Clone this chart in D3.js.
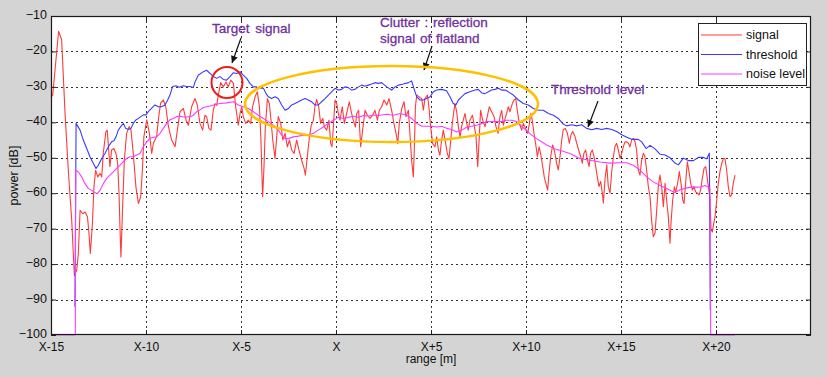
<!DOCTYPE html>
<html>
<head>
<meta charset="utf-8">
<script src="https://cdn.jsdelivr.net/npm/d3@7"></script>
<style>
  html, body { margin: 0; padding: 0; background: #d4d4d4; }
  svg { display: block; font-family: "Liberation Sans", Arial, sans-serif; }
</style>
</head>
<body>
<svg id="chart" width="827" height="377"></svg>
<script>
/* power vs range: measured signal, CFAR threshold and noise level */
const xTicks = [-15, -10, -5, 0, 5, 10, 15, 20];
const xTickLabels = ['X-15', 'X-10', 'X-5', 'X', 'X+5', 'X+10', 'X+15', 'X+20'];
const yTicks = [-100, -90, -80, -70, -60, -50, -40, -30, -20, -10];

const signalX = [-15, -14.91, -14.6, -14.44, -14.26, -14.09, -13.91, -13.77, -13.65, -13.56, -13.47, -13.33, -13.2, -13.08, -13.0, -12.93, -12.82, -12.74, -12.65, -12.54, -12.42, -12.33, -12.25, -12.11, -12.04, -11.95, -11.9, -11.81, -11.69, -11.58, -11.49, -11.42, -11.37, -11.32, -11.23, -11.14, -11.02, -10.89, -10.79, -10.67, -10.53, -10.4, -10.28, -10.19, -10.11, -9.96, -9.82, -9.7, -9.61, -9.53, -9.44, -9.33, -9.23, -9.09, -8.96, -8.82, -8.65, -8.47, -8.35, -8.21, -8.03, -7.89, -7.77, -7.6, -7.42, -7.3, -7.16, -7.02, -6.9, -6.81, -6.69, -6.58, -6.46, -6.37, -6.28, -6.18, -6.07, -5.93, -5.79, -5.67, -5.54, -5.4, -5.28, -5.14, -5.05, -4.96, -4.88, -4.75, -4.61, -4.49, -4.39, -4.26, -4.14, -4.03, -3.95, -3.89, -3.86, -3.79, -3.72, -3.61, -3.51, -3.42, -3.33, -3.21, -3.12, -3.04, -2.91, -2.8, -2.68, -2.56, -2.45, -2.33, -2.21, -2.07, -1.95, -1.81, -1.68, -1.61, -1.51, -1.4, -1.3, -1.19, -1.11, -1.02, -0.91, -0.81, -0.7, -0.61, -0.49, -0.37, -0.28, -0.21, -0.14, -0.05, 0.04, 0.12, 0.21, 0.33, 0.44, 0.56, 0.7, 0.82, 0.91, 1.02, 1.09, 1.19, 1.3, 1.4, 1.53, 1.65, 1.79, 1.93, 2.05, 2.18, 2.28, 2.4, 2.53, 2.67, 2.79, 2.93, 3.05, 3.16, 3.25, 3.33, 3.46, 3.58, 3.68, 3.81, 3.89, 3.98, 4.07, 4.12, 4.18, 4.25, 4.37, 4.51, 4.6, 4.68, 4.81, 4.89, 4.98, 5.09, 5.21, 5.3, 5.39, 5.47, 5.56, 5.65, 5.74, 5.86, 5.95, 6.04, 6.14, 6.26, 6.35, 6.44, 6.53, 6.61, 6.7, 6.79, 6.88, 6.96, 7.05, 7.18, 7.26, 7.37, 7.46, 7.54, 7.61, 7.72, 7.84, 7.96, 8.07, 8.19, 8.32, 8.42, 8.53, 8.63, 8.72, 8.81, 8.9, 8.98, 9.07, 9.16, 9.28, 9.37, 9.46, 9.54, 9.65, 9.77, 9.86, 9.98, 10.09, 10.18, 10.25, 10.33, 10.42, 10.53, 10.6, 10.69, 10.77, 10.88, 10.96, 11.05, 11.14, 11.21, 11.3, 11.4, 11.51, 11.61, 11.7, 11.79, 11.88, 11.96, 12.07, 12.18, 12.28, 12.37, 12.46, 12.58, 12.67, 12.77, 12.88, 12.96, 13.05, 13.14, 13.23, 13.32, 13.4, 13.49, 13.58, 13.67, 13.75, 13.84, 13.93, 14.02, 14.07, 14.16, 14.25, 14.33, 14.42, 14.51, 14.6, 14.68, 14.77, 14.86, 14.95, 15.04, 15.12, 15.21, 15.3, 15.39, 15.47, 15.56, 15.65, 15.74, 15.82, 15.91, 16, 16.09, 16.18, 16.26, 16.35, 16.44, 16.53, 16.61, 16.7, 16.79, 16.88, 16.96, 17.05, 17.14, 17.23, 17.32, 17.4, 17.49, 17.58, 17.63, 17.72, 17.81, 17.88, 17.98, 18.07, 18.16, 18.25, 18.32, 18.4, 18.49, 18.58, 18.67, 18.76, 18.84, 18.93, 19.02, 19.11, 19.19, 19.28, 19.37, 19.46, 19.53, 19.6, 19.67, 19.74, 19.81, 19.88, 19.95, 20.04, 20.12, 20.21, 20.3, 20.39, 20.47, 20.56, 20.65, 20.74, 20.82, 20.91, 21];
const signalY = [-33, -32.3, -14.3, -16.7, -37.5, -53.5, -67.6, -83.2, -81.8, -77, -64.8, -65.8, -65.3, -66.7, -71.4, -77, -68.6, -58.2, -53.5, -55.4, -54.4, -55.4, -48.8, -42.6, -42.2, -48.8, -52.5, -47.8, -47.4, -48.8, -51.6, -60.1, -69.5, -78, -63.9, -50.7, -43.1, -41.2, -42.2, -48.8, -58.2, -62.9, -61, -53.5, -44, -39.3, -43.1, -48.8, -45.9, -45, -44, -38.4, -34.6, -33.7, -35.6, -41.2, -45, -46.9, -42.2, -37, -36.1, -39.4, -40.8, -35.6, -33.3, -35.1, -40.3, -42.2, -38, -38.4, -41.7, -42.2, -36.6, -34.7, -35.2, -31.9, -28.8, -30, -28.6, -30, -28.1, -29, -35.6, -40.8, -37.5, -35.6, -38.4, -40.3, -39.4, -40.3, -35.6, -32.8, -31.4, -35.6, -45, -56.3, -61, -52.5, -41.3, -33.3, -34.7, -39.4, -45, -50.2, -44.1, -38.4, -40.3, -45, -43.1, -46.9, -45, -47.8, -48.8, -45, -47.8, -50.7, -53, -54.9, -49.7, -44.1, -40.8, -39.4, -35.6, -33.5, -35.6, -40.3, -38.9, -41.3, -42.2, -39.4, -46, -46.9, -41.3, -33.7, -34.7, -37.5, -39.4, -35.6, -40.3, -37.5, -34.2, -37.5, -39.4, -41.3, -37.5, -36.6, -46.9, -42.2, -36.6, -38, -38.9, -38, -36.6, -39.4, -36.6, -35.6, -33.7, -35.1, -33.3, -36.6, -40.3, -43.1, -46, -40.3, -36.1, -34.2, -38.4, -36.6, -43.1, -50.7, -55.4, -47.8, -35.6, -32.3, -32.8, -33.3, -36.6, -33.3, -32.3, -35.6, -41.2, -46, -46.9, -44.1, -47.8, -49.3, -45, -42.2, -45, -48.8, -50.2, -45, -39.4, -34.7, -37, -41.2, -44.1, -41.2, -39.4, -37.5, -40.3, -42.2, -39.4, -38, -40.3, -44.1, -52.5, -44.1, -36.6, -39.4, -41.2, -38.4, -35.6, -37, -38.4, -41.2, -43.1, -38.4, -36.6, -40.8, -38.9, -37.5, -35.6, -37, -34.7, -33.7, -33.3, -36.6, -40.3, -42.2, -40.3, -41.7, -43.1, -40.3, -37.5, -39.4, -43.1, -46.9, -49.7, -46.9, -48.8, -52.5, -55.4, -57.3, -59.1, -54.4, -49.7, -46.4, -48.3, -51.5, -53.4, -49.7, -45, -42.1, -41.7, -43.1, -45.9, -43.5, -42.6, -44, -45.9, -47.8, -49.7, -51.5, -48.7, -47.8, -50.6, -52.5, -48.7, -47.8, -49.7, -52.5, -55.3, -58.1, -56.7, -60, -62.8, -56, -52, -58, -60, -54, -49.7, -46.9, -45.9, -47.8, -50.2, -48.7, -46.9, -45.5, -45.5, -45.9, -46.9, -45, -44.5, -45.5, -47.8, -53.5, -54.9, -50.6, -48.7, -49.7, -53.5, -58.2, -61, -67.6, -72.3, -71.3, -64.7, -58.2, -54.9, -58.2, -63.8, -57.2, -61.9, -66.6, -74.1, -68.5, -61.9, -58.2, -59.6, -57.2, -53.9, -57.2, -61.9, -62.9, -57.2, -51.1, -53.9, -57.2, -59.1, -58.2, -59.6, -60, -60.5, -59.1, -55.8, -53, -52.5, -55.3, -58.2, -61, -70.4, -70.9, -68.5, -66.6, -61.9, -57.2, -53.9, -51.6, -50.2, -50.2, -53.5, -58.2, -61, -60.5, -57.2, -54.9];

const thresholdX = [-13.74, -13.68, -13.47, -13.3, -13.12, -12.95, -12.77, -12.63, -12.51, -12.33, -12.16, -11.98, -11.81, -11.69, -11.58, -11.46, -11.33, -11.19, -11.07, -10.93, -10.79, -10.67, -10.53, -10.4, -10.28, -10.14, -10, -9.88, -9.7, -9.53, -9.35, -9.18, -9, -8.86, -8.74, -8.6, -8.42, -8.25, -8.04, -7.86, -7.68, -7.51, -7.42, -7.25, -6.98, -6.81, -6.63, -6.46, -6.28, -6.11, -5.93, -5.76, -5.58, -5.4, -5.23, -5.05, -4.88, -4.7, -4.53, -4.35, -4.18, -4, -3.82, -3.68, -3.56, -3.39, -3.21, -3.04, -2.86, -2.68, -2.51, -2.33, -2.16, -1.98, -1.81, -1.63, -1.46, -1.28, -1.11, -0.93, -0.76, -0.58, -0.4, -0.23, -0.05, 0.12, 0.3, 0.47, 0.65, 0.82, 1, 1.18, 1.35, 1.53, 1.7, 1.88, 2.05, 2.23, 2.4, 2.67, 2.93, 3.1, 3.28, 3.54, 3.81, 3.98, 4.1, 4.25, 4.42, 4.6, 4.77, 4.95, 5.12, 5.3, 5.56, 5.82, 6, 6.17, 6.31, 6.44, 6.61, 6.79, 7.05, 7.32, 7.49, 7.67, 7.84, 8.02, 8.19, 8.37, 8.54, 8.72, 8.9, 9.07, 9.33, 9.6, 9.86, 10.12, 10.39, 10.65, 10.91, 11.18, 11.44, 11.7, 11.96, 12.14, 12.4, 12.67, 12.93, 13.19, 13.46, 13.72, 13.98, 14.25, 14.51, 14.77, 15.04, 15.3, 15.56, 15.74, 15.91, 16.09, 16.32, 16.53, 16.79, 17.05, 17.32, 17.58, 17.84, 18.02, 18.28, 18.54, 18.81, 19.07, 19.33, 19.51, 19.65, 19.7];
const thresholdY = [-92, -40.3, -42.2, -45, -47.4, -49.7, -51.6, -53, -52.1, -50.2, -48.8, -46.9, -45.5, -45.2, -44.1, -42.2, -41.2, -40.3, -41.7, -42, -41.7, -40.3, -39.3, -38.9, -38.4, -37.9, -37.9, -37, -36, -35.1, -35.6, -35.6, -35.1, -33.7, -32.3, -29.9, -29.7, -30.1, -29.7, -29.9, -29.9, -30.2, -28.6, -26.7, -25.7, -25.3, -26.2, -27.1, -27.6, -27.1, -27.9, -28.1, -27.1, -26, -26.2, -25.7, -26.7, -27.6, -29, -30, -30, -30.4, -30.4, -31.9, -32.8, -33.3, -32.8, -33.3, -35.1, -36.6, -36.1, -35.1, -34.7, -34.2, -33.7, -33.3, -33.7, -34.2, -35.1, -35.1, -34.2, -33.3, -32.3, -31.4, -30.4, -30.9, -30.7, -30, -30.2, -30.9, -30.7, -30, -29.5, -29.8, -29.5, -29.2, -28.8, -29, -28.8, -30, -30.9, -30, -29.5, -29.2, -28.8, -28.3, -30.4, -32.8, -33.7, -33.7, -33.3, -32.8, -31.4, -30.9, -30.7, -31.1, -32.8, -34.7, -35.1, -33.7, -32.8, -31.9, -31.4, -30.9, -30.7, -31.7, -31.9, -31.4, -30.9, -30.7, -30.4, -30.9, -30.9, -31.4, -32.3, -33.7, -34.7, -35.1, -36.1, -36.6, -36.6, -37.5, -38, -38.9, -40.5, -41, -40.7, -41, -40.7, -41.7, -42.1, -41.7, -42, -41.7, -42, -42.6, -43.5, -44.2, -44.8, -44.8, -44.8, -45.5, -47.4, -46.5, -47.5, -49, -49.2, -50, -51.5, -52, -50.1, -50.8, -50.8, -49.9, -49.9, -50.3, -48.7, -93];

const noiseX = [-15, -13.72, -13.7, -13.56, -13.38, -13.21, -13.03, -12.86, -12.68, -12.56, -12.42, -12.25, -12.07, -11.9, -11.72, -11.54, -11.37, -11.19, -11.02, -10.84, -10.67, -10.49, -10.32, -10.14, -9.96, -9.79, -9.61, -9.44, -9.26, -9.09, -8.91, -8.74, -8.56, -8.39, -8.21, -8.04, -7.86, -7.68, -7.51, -7.33, -7.16, -6.98, -6.81, -6.63, -6.46, -6.11, -5.76, -5.4, -5.14, -4.88, -4.61, -4.35, -4.09, -3.82, -3.56, -3.3, -3.04, -2.86, -2.68, -2.51, -2.25, -1.98, -1.72, -1.46, -1.19, -0.93, -0.67, -0.4, -0.14, 0.12, 0.39, 0.65, 0.91, 1.18, 1.44, 1.7, 1.96, 2.32, 2.67, 3.02, 3.37, 3.72, 3.98, 4.25, 4.51, 4.77, 5.04, 5.3, 5.56, 5.82, 6.09, 6.35, 6.61, 6.88, 7.14, 7.4, 7.67, 7.93, 8.19, 8.46, 8.72, 8.98, 9.25, 9.51, 9.77, 10.04, 10.3, 10.56, 10.82, 11.09, 11.35, 11.61, 11.79, 12.31, 12.84, 13.37, 13.89, 14.42, 14.95, 15.3, 15.65, 16, 16.35, 16.7, 17.05, 17.4, 17.75, 17.84, 18.11, 18.46, 18.81, 19.16, 19.42, 19.6, 19.68, 19.72, 21];
const noiseY = [-100, -100, -53.5, -54, -55.4, -57.3, -58.7, -59.2, -59.9, -60.1, -59.2, -57.3, -55.8, -54.9, -54, -53, -52.1, -51.1, -50.2, -49.7, -49.7, -49.2, -48.8, -46.9, -45.5, -44.5, -44.2, -44.1, -43.1, -41.7, -40.3, -39.3, -38.9, -38.4, -38.3, -38.5, -38.5, -38.4, -38, -37, -36.5, -35.8, -35.6, -35.4, -35.1, -34.7, -34.5, -34.2, -35.1, -35.6, -36.1, -37, -38, -38.9, -39.8, -40.8, -42.2, -43.6, -44.6, -44.6, -44.1, -43.9, -43.6, -43.6, -43.1, -42.2, -41.3, -40.3, -39.4, -38.6, -38.9, -38.6, -38.3, -38.6, -38.1, -38.2, -38, -38, -37.7, -38, -37.5, -38, -38.9, -40.3, -41.1, -41.1, -41.1, -41.3, -41.1, -41.7, -42, -42.7, -42.2, -41.4, -41.1, -40.8, -40.3, -39.8, -39.8, -39.8, -39.8, -39.4, -39.4, -39.8, -41.1, -42.4, -43.6, -44.6, -45.5, -46.4, -47, -47.7, -47.9, -48.8, -50.2, -50.7, -51.2, -51.5, -51.4, -51.4, -52.1, -53.5, -55.4, -56.8, -57.8, -58.7, -59.6, -59.8, -59, -58.5, -58.2, -58.3, -57.8, -58.3, -58.5, -100, -100];

const seriesNames = ['signal', 'threshold', 'noise level'];
const seriesColors = ['#ff3a3a', '#3a3aff', '#ff3aff'];

(function(){
  const W = 827, H = 377;
  const m = { left: 51, right: 811, top: 16, bottom: 335 };
  const svg = d3.select('#chart');

  const x = d3.scaleLinear().domain([-15, 25]).range([m.left, m.right]);
  const y = d3.scaleLinear().domain([-100, -10]).range([m.bottom, m.top]);

  svg.append('rect').attr('width', W).attr('height', H).attr('fill', '#d4d4d4');
  svg.append('rect')
    .attr('x', m.left).attr('y', m.top)
    .attr('width', m.right - m.left).attr('height', m.bottom - m.top)
    .attr('fill', '#fff');

  // dotted grid
  const grid = svg.append('g').attr('stroke', '#333').attr('stroke-dasharray', '2,3').attr('stroke-width', 1);
  grid.selectAll('.gx').data(xTicks.slice(1)).join('line')
    .attr('x1', d => Math.round(x(d)) + 0.5).attr('x2', d => Math.round(x(d)) + 0.5)
    .attr('y1', m.top).attr('y2', m.bottom);
  grid.selectAll('.gy').data(yTicks.slice(1, -1)).join('line')
    .attr('y1', d => Math.round(y(d)) + 0.5).attr('y2', d => Math.round(y(d)) + 0.5)
    .attr('x1', m.left).attr('x2', m.right);

  // series
  const line = d3.line().x(d => x(d[0])).y(d => y(d[1]));
  const series = [
    d3.zip(signalX, signalY),
    d3.zip(thresholdX, thresholdY),
    d3.zip(noiseX, noiseY)
  ];
  svg.append('g').selectAll('path').data(series).join('path')
    .attr('d', line)
    .attr('fill', 'none')
    .attr('stroke', (d, i) => seriesColors[i])
    .attr('stroke-width', 1.1)
    .attr('stroke-linejoin', 'round');

  // axes, ticks pointing inward like matlab
  const fmtLabel = d => xTickLabels[xTicks.indexOf(d)];
  const ax = svg.append('g').attr('transform', 'translate(0,' + m.bottom + ')')
    .call(d3.axisBottom(x).tickValues(xTicks).tickFormat(fmtLabel).tickSize(-5).tickPadding(7));
  svg.append('g').attr('transform', 'translate(0,' + m.top + ')')
    .call(d3.axisTop(x).tickValues(xTicks).tickFormat('').tickSize(-5));
  const ay = svg.append('g').attr('transform', 'translate(' + m.left + ',0)')
    .call(d3.axisLeft(y).tickValues(yTicks).tickSize(-5).tickPadding(4));
  svg.append('g').attr('transform', 'translate(' + m.right + ',0)')
    .call(d3.axisRight(y).tickValues(yTicks).tickFormat('').tickSize(-5));
  svg.selectAll('.domain').remove();
  svg.selectAll('.tick line').attr('stroke', '#222');
  svg.selectAll('.tick text').attr('fill', '#111').style('font-size', '12.5px');
  ax.selectAll('.tick text').style('font-size', '12px');
  ay.selectAll('.tick text').attr('dy', '0.2em');

  svg.append('rect')
    .attr('x', m.left + 0.5).attr('y', m.top + 0.5)
    .attr('width', m.right - m.left - 1).attr('height', m.bottom - m.top - 1)
    .attr('fill', 'none').attr('stroke', '#1a1a1a').attr('stroke-width', 1.2);

  svg.append('text').attr('x', (m.left + m.right) / 2).attr('y', 363)
    .attr('text-anchor', 'middle').style('font-size', '12px').attr('fill', '#111').text('range [m]');
  svg.append('text').attr('transform', 'translate(18,' + ((m.top + m.bottom) / 2) + ') rotate(-90)')
    .attr('text-anchor', 'middle').style('font-size', '12.5px').attr('fill', '#111').text('power [dB]');

  // legend
  const lg = svg.append('g').attr('transform', 'translate(698,23)');
  lg.append('rect').attr('x', 0.5).attr('y', 0.5).attr('width', 108).attr('height', 62)
    .attr('fill', '#fff').attr('stroke', '#222');
  seriesNames.forEach((name, i) => {
    const yy = 12 + i * 19.5;
    lg.append('line').attr('x1', 3).attr('x2', 44).attr('y1', yy).attr('y2', yy)
      .attr('stroke', seriesColors[i]).attr('stroke-width', 1.2);
    lg.append('text').attr('x', 48).attr('y', yy + 4).style('font-size', '12.5px')
      .attr('fill', '#111').text(name);
  });

  // annotations
  const defs = svg.append('defs');
  defs.append('marker').attr('id', 'arrow').attr('viewBox', '0 0 10 10')
    .attr('refX', 10).attr('refY', 5).attr('markerWidth', 9).attr('markerHeight', 7)
    .attr('markerUnits', 'userSpaceOnUse').attr('orient', 'auto')
    .append('path').attr('d', 'M0,0 L10,5 L0,10 z').attr('fill', '#111');

  const ann = svg.append('g').style('font-size', '13.5px').attr('fill', '#7030a0')
    .attr('stroke', '#7030a0').attr('stroke-width', 0.3);
  ann.append('text').attr('x', 212).attr('y', 33).attr('word-spacing', 2).text('Target signal');
  ann.append('text').attr('x', 380).attr('y', 27).attr('word-spacing', 1).text('Clutter : reflection');
  ann.append('text').attr('x', 380).attr('y', 43).attr('word-spacing', 1).text('signal of flatland');
  ann.append('text').attr('x', 551).attr('y', 94).attr('word-spacing', 2).text('Threshold level');

  const arrows = [[241, 38, 232, 63], [432, 46, 424, 70], [598, 101, 588, 127]];
  svg.append('g').selectAll('line').data(arrows).join('line')
    .attr('x1', d => d[0]).attr('y1', d => d[1]).attr('x2', d => d[2]).attr('y2', d => d[3])
    .attr('stroke', '#111').attr('stroke-width', 1.2).attr('marker-end', 'url(#arrow)');

  svg.append('circle').attr('cx', 227).attr('cy', 82.5).attr('r', 15.5)
    .attr('fill', 'none').attr('stroke', '#ee1c1c').attr('stroke-width', 2);
  svg.append('ellipse').attr('cx', 391.5).attr('cy', 104).attr('rx', 146.5).attr('ry', 38)
    .attr('fill', 'none').attr('stroke', '#ffc000').attr('stroke-width', 2.5);
})();
</script>
</body>
</html>
